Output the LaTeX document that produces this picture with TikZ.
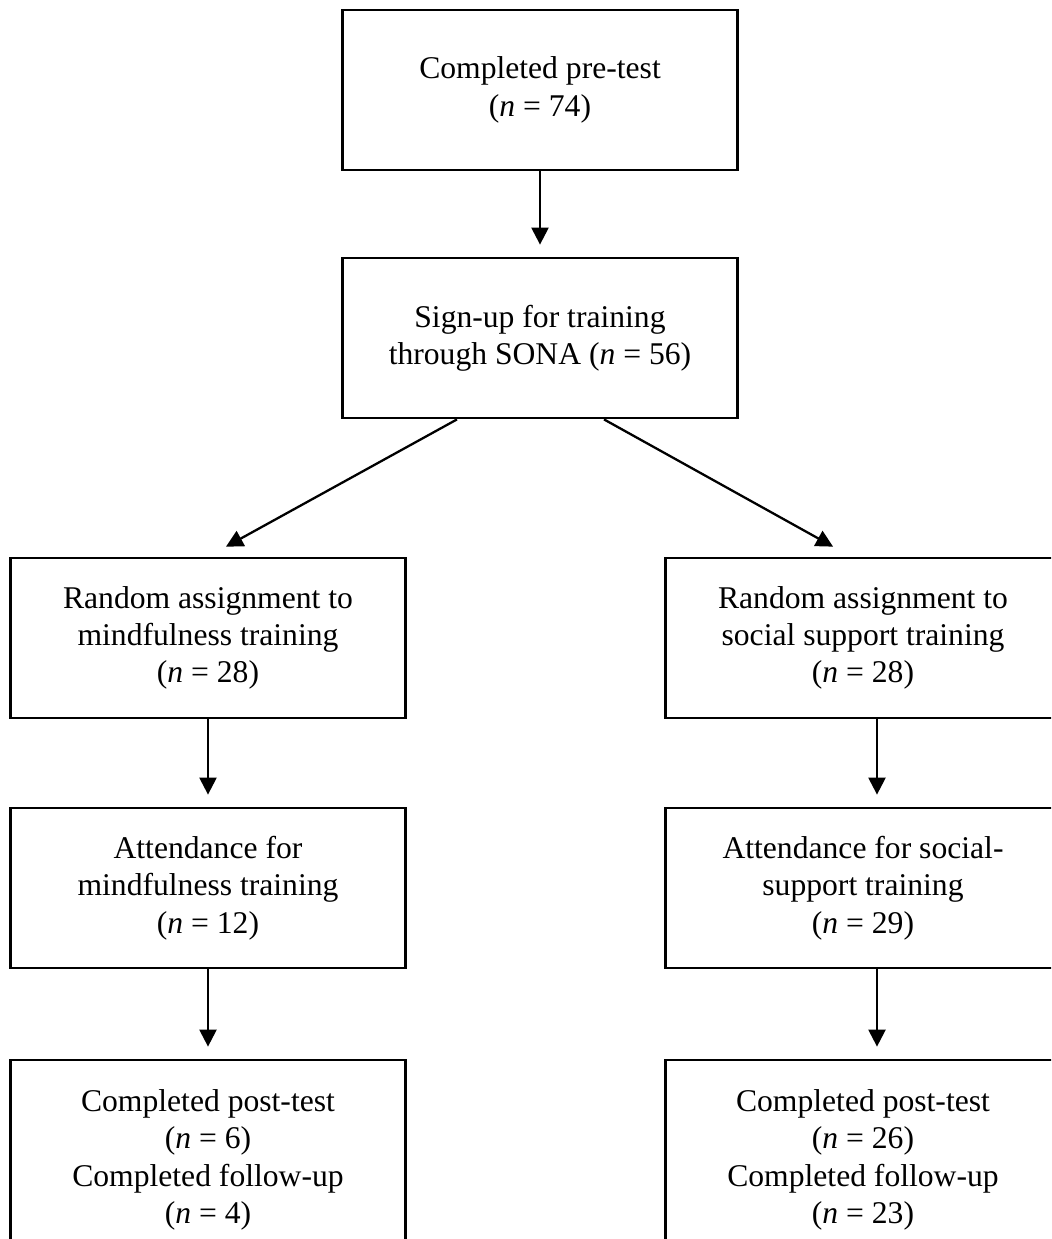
\documentclass[tikz,border=0pt]{standalone}
\usepackage{fontspec}
\setmainfont{Liberation Serif}
\usetikzlibrary{arrows.meta}

\tikzset{
    flowbox/.style={rectangle, draw=black, line width=1.6pt, align=center, minimum width=7.9cm, minimum height=3.2cm, inner sep=0pt, font=\fontsize{18}{21.2}\selectfont},
    flowarrow/.style={line width=1.3pt, -{Triangle[length=0.34cm, width=0.34cm]}, shorten >=0.24cm}
}

\begin{document}
\begin{tikzpicture}[x=0.02cm, y=-0.02cm]
            \useasboundingbox (0,0) rectangle (1051,1239);
            \clip (0,0) rectangle (1051,1239);

            \node [flowbox] (pre) at (540,90) {Completed pre-test\\(\textit{n} = 74)};
            \node [flowbox] (signup) at (540,338) {Sign-up for training\\through SONA (\textit{n} = 56)};
            \node [flowbox] (lassign) at (208,638) {Random assignment to\\mindfulness training\\(\textit{n} = 28)};
            \node [flowbox] (rassign) at (863,638) {Random assignment to\\social support training\\(\textit{n} = 28)};
            \node [flowbox] (lattend) at (208,888) {Attendance for\\mindfulness training\\(\textit{n} = 12)};
            \node [flowbox] (rattend) at (863,888) {Attendance for social-\\support training\\(\textit{n} = 29)};
            \node [flowbox, minimum height=4cm] (lpost) at (208,1160) {Completed post-test\\(\textit{n} = 6)\\Completed follow-up\\(\textit{n} = 4)};
            \node [flowbox, minimum height=4cm] (rpost) at (863,1160) {Completed post-test\\(\textit{n} = 26)\\Completed follow-up\\(\textit{n} = 23)};

            \draw [flowarrow] (pre) -- (signup);
            \draw [flowarrow, shorten >=0.41cm] ([xshift=-1.66cm]signup.south) -- (lassign.north);
            \draw [flowarrow, shorten >=0.41cm] ([xshift=1.28cm]signup.south) -- ([xshift=-0.24cm]rassign.north);
            \draw [flowarrow] (lassign) -- (lattend);
            \draw [flowarrow] ([xshift=0.28cm]rassign.south) -- ([xshift=0.28cm]rattend.north);
            \draw [flowarrow] (lattend) -- (lpost);
            \draw [flowarrow] ([xshift=0.28cm]rattend.south) -- ([xshift=0.28cm]rpost.north);
        \end{tikzpicture}
\end{document}
